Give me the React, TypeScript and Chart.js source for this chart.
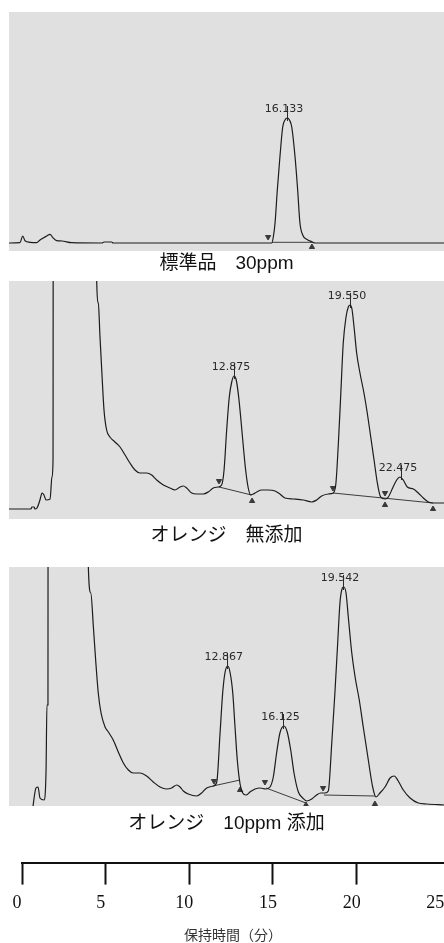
import React, { useEffect, useRef } from 'react';
import { Chart, registerables } from 'chart.js';

Chart.register(...registerables);

// ---------- Panel 1: 標準品 30ppm ----------
const stdTime = [0.15, 0.78, 0.94, 1.07, 1.36, 1.74, 1.93, 2.32, 2.51, 2.66, 2.89, 3.18, 3.75, 5.49, 5.61, 6.05, 6.13, 15.25, 15.34, 15.44, 15.57, 15.72, 15.88, 16.01, 16.14, 16.27, 16.40, 16.59, 16.74, 16.87, 17.03, 17.26, 17.55, 17.74, 25.15];
const stdSignal = [8, 8.3, 15, 10.3, 8.7, 8.3, 11, 15, 16.7, 13.7, 10.3, 10, 8.3, 8, 9, 9, 8, 8, 14, 28, 61, 94, 124, 131, 133, 131, 124, 94, 61, 28, 16, 11.7, 9.3, 8, 8];
const stdPeakRT = [16.133];
const stdPeakTop = [133];
const stdDownT = [15.04];
const stdDownS = [14];
const stdUpT = [17.56];
const stdUpS = [4];
const stdBaseT = [15.25, 17.62];
const stdBaseS = [8.7, 8.7];

// ---------- Panel 2: オレンジ 無添加 ----------
const blankTime = [-0.05, 1.21, 1.27, 1.39, 1.44, 1.56, 1.73, 1.85, 1.96, 2.08, 2.31, 2.42, 2.48, 2.52, 4.95, 4.99, 5.08, 5.18, 5.28, 5.41, 5.56, 5.75, 6.04, 6.33, 6.62, 6.90, 7.19, 7.48, 7.86, 8.15, 8.44, 8.82, 9.20, 9.49, 9.78, 9.97, 10.16, 10.45, 10.74, 11.12, 11.40, 11.69, 11.98, 12.17, 12.31, 12.46, 12.61, 12.75, 12.88, 13.01, 13.15, 13.28, 13.42, 13.55, 13.70, 13.84, 13.99, 14.19, 14.47, 14.85, 15.24, 15.52, 15.81, 16.29, 16.86, 17.35, 17.63, 17.92, 18.30, 18.59, 18.74, 18.88, 19.01, 19.16, 19.32, 19.45, 19.55, 19.66, 19.78, 19.93, 20.12, 20.35, 20.54, 20.74, 20.93, 21.12, 21.31, 21.56, 21.75, 22.00, 22.23, 22.42, 22.61, 22.84, 23.19, 23.47, 23.76, 24.05, 24.34, 24.95];
const blankSignal = [10, 10, 12, 12, 10, 11, 19, 26, 24, 19, 20, 42, 59, 1500, 1500, 238, 216, 182, 149, 109, 89, 82, 77, 72, 64, 56, 49, 46, 46, 44, 39, 34, 31, 29, 32, 33, 31, 26, 25, 25, 27, 31, 32, 34, 49, 89, 122, 137, 143, 139, 122, 99, 72, 49, 31, 24, 25, 27, 29, 29, 28, 25, 21, 20, 19, 17, 19, 23, 25, 26, 36, 76, 122, 176, 202, 212, 214, 210, 192, 166, 146, 126, 106, 82, 59, 36, 22, 20, 22, 31, 39, 42, 39, 32, 30, 26, 21, 17, 16, 16];
const blankPeakRT = [12.875, 19.55, 22.475];
const blankPeakTop = [143, 214, 42];
const blankDownT = [12.02, 18.57, 21.56];
const blankDownS = [38, 31, 26];
const blankUpT = [13.92, 21.56, 24.32];
const blankUpS = [18, 14, 10];
const blankBaseT = [12.02, 13.89, 18.57, 24.32];
const blankBaseS = [32, 24, 26, 16];

// ---------- Panel 3: オレンジ 10ppm 添加 ----------
const spikeTime = [1.70, 1.90, 2.02, 2.13, 2.36, 2.48, 2.53, 2.59, 2.62, 4.88, 4.91, 5.05, 5.20, 5.33, 5.48, 5.64, 5.87, 6.06, 6.34, 6.63, 6.92, 7.21, 7.49, 7.88, 8.26, 8.64, 9.03, 9.41, 9.70, 9.99, 10.18, 10.37, 10.65, 11.14, 11.42, 11.71, 12.09, 12.29, 12.48, 12.63, 12.76, 12.92, 13.05, 13.21, 13.34, 13.47, 13.63, 13.78, 13.97, 14.20, 14.49, 14.78, 15.10, 15.35, 15.54, 15.73, 15.92, 16.15, 16.34, 16.54, 16.73, 16.98, 17.23, 17.46, 17.75, 18.03, 18.26, 18.51, 18.70, 18.90, 19.08, 19.24, 19.37, 19.51, 19.59, 19.72, 19.85, 20.05, 20.24, 20.48, 20.71, 21.00, 21.25, 21.44, 21.67, 21.96, 22.25, 22.49, 22.72, 23.01, 23.40, 23.87, 24.36, 25.35];
const spikeSignal = [-4, 18, 19, 8, 6, 36, 101, 101, 1500, 1500, 239, 213, 179, 146, 113, 93, 79, 74, 66, 54, 43, 36, 33, 33, 30, 24, 19, 17, 18, 21, 19, 15, 12, 10, 13, 18, 20, 24, 73, 113, 133, 140, 134, 113, 79, 46, 22, 13, 11, 14, 17, 18, 17, 19, 29, 53, 73, 80, 74, 56, 33, 14, 8, 5, 7, 11, 13, 13, 15, 63, 113, 163, 203, 218, 219, 213, 189, 153, 129, 106, 79, 46, 19, 9, 13, 19, 28, 30, 25, 16, 8, 3, 2, 1];
const spikePeakRT = [12.867, 16.125, 19.542];
const spikePeakTop = [140, 80, 219];
const spikeDownT = [12.13, 15.06, 18.40];
const spikeDownS = [25, 24, 18];
const spikeUpT = [13.63, 17.42, 21.38];
const spikeUpS = [16, 1, 2];
const spikeBaseT = [12.07, 13.63, 15.12, 17.42, 18.45, 21.38];
const spikeBaseS = [20, 26, 18, 3, 11, 10];

// ---------- Bottom time axis ----------
const axisTicks = [0, 5, 10, 15, 20, 25];
const axisMax = 25.22;
const axisTitle = '保持時間（分）';

const SPAN = 25; // minutes shown across each panel
const PANEL_BG = '#e0e0e0';
const TRACE = '#1c1c1c';

const toPts = (xs: number[], ys: number[]) => xs.map((x, i) => ({ x, y: ys[i] }));

type PanelProps = {
  left: number; top: number; width: number; height: number;
  xMin: number; yMax: number;
  time: number[]; signal: number[];
  peakRT: number[]; peakTop: number[];
  downT: number[]; downS: number[]; upT: number[]; upS: number[];
  baseT: number[]; baseS: number[];
  label: string; padTop: number; padBottom: number;
};

function Panel(p: PanelProps) {
  const ref = useRef<HTMLCanvasElement | null>(null);
  useEffect(() => {
    if (!ref.current) return;
    const bgPlugin = {
      id: 'panelBg',
      beforeDraw(chart: any) {
        const { ctx, chartArea: a } = chart;
        ctx.save();
        ctx.fillStyle = PANEL_BG;
        ctx.fillRect(a.left, a.top, a.right - a.left, a.bottom - a.top);
        ctx.restore();
      },
    };
    const peakPlugin = {
      id: 'peakLabels',
      afterDatasetsDraw(chart: any) {
        const { ctx } = chart;
        const xs = chart.scales.x;
        const ys = chart.scales.y;
        ctx.save();
        ctx.font = "11px 'DejaVu Sans', sans-serif";
        ctx.fillStyle = '#2a2a2a';
        ctx.strokeStyle = '#2a2a2a';
        ctx.lineWidth = 1;
        ctx.textAlign = 'center';
        ctx.textBaseline = 'middle';
        p.peakRT.forEach((rt, i) => {
          const px = xs.getPixelForValue(rt);
          const py = ys.getPixelForValue(p.peakTop[i]);
          const lx = Math.round(px) + 0.5;
          ctx.beginPath();
          ctx.moveTo(lx, py - 12);
          ctx.lineTo(lx, py + 3);
          ctx.stroke();
          ctx.fillText(rt.toFixed(3), px - 3, py - 9);
        });
        ctx.restore();
      },
    };
    const baseSets: any[] = [];
    for (let i = 0; i + 1 < p.baseT.length; i += 2) {
      baseSets.push({
        data: toPts(p.baseT.slice(i, i + 2), p.baseS.slice(i, i + 2)),
        borderColor: '#3c3c3c', borderWidth: 1, pointRadius: 0, tension: 0,
      });
    }
    const chart = new Chart(ref.current, {
      type: 'line',
      data: {
        datasets: [
          {
            data: toPts(p.time, p.signal),
            borderColor: TRACE, borderWidth: 1.2, pointRadius: 0,
            cubicInterpolationMode: 'monotone',
          },
          ...baseSets,
          {
            data: toPts(p.downT, p.downS), showLine: false,
            pointStyle: 'triangle', pointRotation: 180, pointRadius: 3,
            pointBackgroundColor: '#3a3a3a', pointBorderColor: '#3a3a3a', pointBorderWidth: 1,
          },
          {
            data: toPts(p.upT, p.upS), showLine: false,
            pointStyle: 'triangle', pointRotation: 0, pointRadius: 3,
            pointBackgroundColor: '#3a3a3a', pointBorderColor: '#3a3a3a', pointBorderWidth: 1,
          },
        ] as any,
      },
      options: {
        animation: false,
        responsive: true,
        maintainAspectRatio: false,
        events: [],
        layout: { padding: 0, autoPadding: false },
        scales: {
          x: { type: 'linear', min: p.xMin, max: p.xMin + SPAN, display: false },
          y: { type: 'linear', min: 0, max: p.yMax, display: false },
        },
        plugins: {
          legend: { display: false },
          tooltip: { enabled: false },
          title: {
            display: true, position: 'bottom', text: p.label, color: '#111',
            font: { family: "'Liberation Sans', 'Noto Sans CJK JP', sans-serif", size: 19, weight: 'normal', lineHeight: 1.2 },
            padding: { top: p.padTop, bottom: p.padBottom },
          },
        },
      } as any,
      plugins: [bgPlugin, peakPlugin],
    });
    return () => chart.destroy();
  }, []);
  return (
    <div style={{ position: 'absolute', left: p.left, top: p.top, width: p.width, height: p.height }}>
      <canvas ref={ref} />
    </div>
  );
}

function TimeAxis() {
  const ref = useRef<HTMLCanvasElement | null>(null);
  useEffect(() => {
    if (!ref.current) return;
    const chart = new Chart(ref.current, {
      type: 'line',
      data: { datasets: [] },
      options: {
        animation: false,
        responsive: true,
        maintainAspectRatio: false,
        events: [],
        layout: { padding: { left: 22, right: 16, top: 0, bottom: 0 }, autoPadding: false },
        scales: {
          x: {
            type: 'linear', position: 'bottom', min: 0, max: axisMax,
            afterBuildTicks: (axis: any) => { axis.ticks = axisTicks.map((v) => ({ value: v })); },
            border: { display: true, color: '#111', width: 2 },
            grid: {
              display: true, drawOnChartArea: false, drawTicks: true,
              tickLength: 22, tickWidth: 2, color: '#111',
              tickColor: (c: any) => (c.tick && c.tick.value === 25 ? 'rgba(0,0,0,0)' : '#111'),
            },
            ticks: {
              autoSkip: false, maxRotation: 0, minRotation: 0, padding: 8, labelOffset: -5,
              color: '#111',
              font: { family: "'Liberation Serif', 'DejaVu Serif', serif", size: 18 },
              callback: (v: any) => String(v),
            },
            title: {
              display: true, text: axisTitle, color: '#333',
              font: { family: "'Noto Sans CJK JP', sans-serif", size: 14 },
              padding: { top: 4, bottom: 0 },
            },
          },
          y: { display: false, min: 0, max: 1 },
        },
        plugins: { legend: { display: false }, tooltip: { enabled: false } },
      } as any,
    });
    return () => chart.destroy();
  }, []);
  return (
    <div style={{ position: 'absolute', left: 0, top: 773, width: 460, height: 170 }}>
      <canvas ref={ref} />
    </div>
  );
}

export default function App() {
  return (
    <div style={{ position: 'absolute', left: 0, top: 0, width: 444, height: 943, overflow: 'hidden', background: '#fff' }}>
      <Panel left={9} top={12} width={435} height={264} xMin={0.15} yMax={239}
        time={stdTime} signal={stdSignal} peakRT={stdPeakRT} peakTop={stdPeakTop}
        downT={stdDownT} downS={stdDownS} upT={stdUpT} upS={stdUpS}
        baseT={stdBaseT} baseS={stdBaseS} label={'標準品　30ppm'} padTop={1.2} padBottom={1} />
      <Panel left={9} top={281} width={435} height={267} xMin={-0.05} yMax={238}
        time={blankTime} signal={blankSignal} peakRT={blankPeakRT} peakTop={blankPeakTop}
        downT={blankDownT} downS={blankDownS} upT={blankUpT} upS={blankUpS}
        baseT={blankBaseT} baseS={blankBaseS} label={'オレンジ　無添加'} padTop={5} padBottom={1.2} />
      <Panel left={9} top={567} width={435} height={269} xMin={0.35} yMax={239}
        time={spikeTime} signal={spikeSignal} peakRT={spikePeakRT} peakTop={spikePeakTop}
        downT={spikeDownT} downS={spikeDownS} upT={spikeUpT} upS={spikeUpS}
        baseT={spikeBaseT} baseS={spikeBaseS} label={'オレンジ　10ppm 添加'} padTop={6} padBottom={1.2} />
      <TimeAxis />
    </div>
  );
}
